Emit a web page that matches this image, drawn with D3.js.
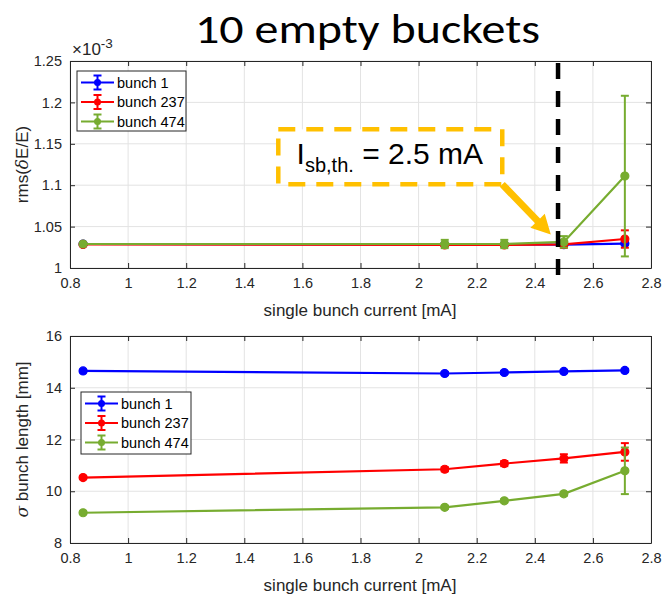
<!DOCTYPE html>
<html>
<head>
<meta charset="utf-8">
<script src="https://cdn.jsdelivr.net/npm/d3@7"></script>
<style>
  body { margin: 0; background: #fff; }
  text { font-family: "Liberation Sans", Arial, sans-serif; }
</style>
</head>
<body>
<div id="chart"></div>
<script>
// data
const current = [0.845, 2.09, 2.295, 2.5, 2.71];
const seriesNames = ['bunch 1', 'bunch 237', 'bunch 474'];
const seriesColors = ['#0000ff', '#ff0000', '#77ac30'];

const rmsB1 = [1.0290, 1.0285, 1.0285, 1.0282, 1.0295];
const rmsB1Err = [0.0008, 0.0008, 0.0008, 0.0010, 0.0015];
const rmsB237 = [1.0285, 1.0278, 1.0278, 1.0285, 1.0350];
const rmsB237Err = [0.0008, 0.0010, 0.0010, 0.0040, 0.0105];
const rmsB474 = [1.0290, 1.0290, 1.0290, 1.0315, 1.1110];
const rmsB474Err = [0.0008, 0.0050, 0.0050, 0.0070, 0.0970];

const lenB1 = [14.65, 14.55, 14.59, 14.63, 14.67];
const lenB1Err = [0.05, 0.06, 0.06, 0.06, 0.06];
const lenB237 = [10.53, 10.85, 11.07, 11.27, 11.52];
const lenB237Err = [0.05, 0.08, 0.10, 0.16, 0.34];
const lenB474 = [9.17, 9.38, 9.63, 9.90, 10.79];
const lenB474Err = [0.05, 0.06, 0.06, 0.07, 0.90];

const xTicks = [0.8, 1, 1.2, 1.4, 1.6, 1.8, 2, 2.2, 2.4, 2.6, 2.8];
const rmsTicks = [1, 1.05, 1.1, 1.15, 1.2, 1.25];
const lenTicks = [8, 10, 12, 14, 16];
const threshold = 2.48;

const W = 666, H = 598;
const svg = d3.select('#chart').append('svg')
  .attr('width', W).attr('height', H);

svg.append('text')
  .attr('x', 195).attr('y', 43)
  .attr('textLength', 345).attr('lengthAdjust', 'spacingAndGlyphs')
  .style('font-family', 'Carlito, "Open Sans", Lato, sans-serif')
  .style('font-size', '41px')
  .attr('fill', '#000')
  .text('10 empty buckets');

function drawPanel(top, bottom, yDomain, yTicks, yFmt, series, yLabel) {
  const x = d3.scaleLinear().domain([0.8, 2.8]).range([70, 651]);
  const y = d3.scaleLinear().domain(yDomain).range([bottom, top]);
  const g = svg.append('g');

  // grid
  g.append('g').selectAll('line').data(xTicks).join('line')
    .attr('x1', d => x(d)).attr('x2', d => x(d))
    .attr('y1', top).attr('y2', bottom)
    .attr('stroke', '#e3e3e3').attr('stroke-width', 1);
  g.append('g').selectAll('line').data(yTicks).join('line')
    .attr('x1', 70).attr('x2', 651)
    .attr('y1', d => y(d)).attr('y2', d => y(d))
    .attr('stroke', '#e3e3e3').attr('stroke-width', 1);

  // axes, ticks inward, box on
  const axisColor = '#262626';
  const ax = [
    g.append('g').attr('transform', `translate(0,${bottom})`)
      .call(d3.axisBottom(x).tickValues(xTicks).tickSizeInner(-5).tickSizeOuter(0).tickPadding(10).tickFormat(d3.format('~g'))),
    g.append('g').attr('transform', `translate(0,${top})`)
      .call(d3.axisTop(x).tickValues(xTicks).tickSizeInner(-5).tickSizeOuter(0).tickFormat('')),
    g.append('g').attr('transform', 'translate(70,0)')
      .call(d3.axisLeft(y).tickValues(yTicks).tickSizeInner(-5).tickSizeOuter(0).tickPadding(8).tickFormat(yFmt)),
    g.append('g').attr('transform', 'translate(651,0)')
      .call(d3.axisRight(y).tickValues(yTicks).tickSizeInner(-5).tickSizeOuter(0).tickFormat(''))
  ];
  ax.forEach(a => {
    a.select('.domain').attr('stroke', axisColor);
    a.selectAll('.tick line').attr('stroke', axisColor);
    a.selectAll('.tick text').attr('fill', axisColor)
      .style('font-size', '14.5px').style('font-family', '"Liberation Sans", Arial, sans-serif');
  });

  // series
  series.forEach((s, i) => {
    const pts = current.map((c, k) => ({ x: c, y: s.v[k], e: s.e[k] }));
    const col = seriesColors[i];
    const line = d3.line().x(d => x(d.x)).y(d => y(d.y));
    g.append('path').datum(pts)
      .attr('fill', 'none').attr('stroke', col).attr('stroke-width', 2.2)
      .attr('d', line);
    const eb = g.append('g').selectAll('g').data(pts).join('g');
    eb.append('line')
      .attr('x1', d => x(d.x)).attr('x2', d => x(d.x))
      .attr('y1', d => y(d.y - d.e)).attr('y2', d => y(d.y + d.e))
      .attr('stroke', col).attr('stroke-width', 2);
    [-1, 1].forEach(sg => {
      eb.append('line')
        .attr('x1', d => x(d.x) - 4).attr('x2', d => x(d.x) + 4)
        .attr('y1', d => y(d.y + sg * d.e)).attr('y2', d => y(d.y + sg * d.e))
        .attr('stroke', col).attr('stroke-width', 2);
    });
    g.append('g').selectAll('circle').data(pts).join('circle')
      .attr('cx', d => x(d.x)).attr('cy', d => y(d.y)).attr('r', 4)
      .attr('fill', col).attr('stroke', col).attr('stroke-width', 1.2);
  });

  // y label
  svg.append('text')
    .attr('transform', `translate(28,${(top + bottom) / 2}) rotate(-90)`)
    .attr('text-anchor', 'middle')
    .style('font-size', '17px').attr('fill', axisColor)
    .html(yLabel);

  // x label
  svg.append('text')
    .attr('x', 360).attr('y', bottom + 48)
    .attr('text-anchor', 'middle')
    .style('font-size', '17px').attr('fill', axisColor)
    .text('single bunch current [mA]');

  return { x, y, g };
}

function drawLegend(lx, ly, w, h) {
  const lg = svg.append('g').attr('transform', `translate(${lx},${ly})`);
  lg.append('rect').attr('width', w).attr('height', h)
    .attr('fill', '#fff').attr('stroke', '#262626').attr('stroke-width', 1);
  seriesNames.forEach((n, i) => {
    const cy = 11.5 + i * 19.5;
    const col = seriesColors[i];
    lg.append('line').attr('x1', 4).attr('x2', 37).attr('y1', cy).attr('y2', cy)
      .attr('stroke', col).attr('stroke-width', 2.2);
    lg.append('line').attr('x1', 20.5).attr('x2', 20.5).attr('y1', cy - 7).attr('y2', cy + 7)
      .attr('stroke', col).attr('stroke-width', 2);
    [-7, 7].forEach(dy => lg.append('line')
      .attr('x1', 16.5).attr('x2', 24.5).attr('y1', cy + dy).attr('y2', cy + dy)
      .attr('stroke', col).attr('stroke-width', 2));
    lg.append('circle').attr('cx', 20.5).attr('cy', cy).attr('r', 3.5).attr('fill', col);
    lg.append('text').attr('x', 40).attr('y', cy + 5)
      .style('font-size', '14.5px').attr('fill', '#000').text(n);
  });
}

// top panel
const topP = drawPanel(61, 268, [1, 1.25], rmsTicks, d3.format('~g'), [
  { v: rmsB1, e: rmsB1Err },
  { v: rmsB237, e: rmsB237Err },
  { v: rmsB474, e: rmsB474Err }
], 'rms(<tspan font-style="italic" font-family="DejaVu Serif">δ</tspan>E/E)');

// exponent label
svg.append('text').attr('x', 72).attr('y', 55)
  .style('font-size', '17px').attr('fill', '#262626')
  .html('×10<tspan dy="-7" font-size="13.5px">-3</tspan>');

drawLegend(77, 71, 109, 60);

// threshold line
topP.g.append('line')
  .attr('x1', topP.x(threshold)).attr('x2', topP.x(threshold))
  .attr('y1', topP.y(1.2476)).attr('y2', topP.y(0.9915))
  .attr('stroke', '#000').attr('stroke-width', 4.5)
  .attr('stroke-dasharray', '16,12');

// annotation box
const box = { x0: 1.517, x1: 2.288, y0: 1.1675, y1: 1.101 };
topP.g.append('rect')
  .attr('x', topP.x(box.x0)).attr('y', topP.y(box.y0))
  .attr('width', topP.x(box.x1) - topP.x(box.x0))
  .attr('height', topP.y(box.y1) - topP.y(box.y0))
  .attr('fill', '#fff').attr('stroke', '#ffc000').attr('stroke-width', 4.5)
  .attr('stroke-dasharray', '17,11');

topP.g.append('text')
  .attr('x', topP.x(1.58)).attr('y', topP.y(1.1255))
  .style('font-size', '30px').attr('fill', '#000')
  .html('I<tspan dy="8" font-size="20px">sb,th.</tspan><tspan dy="-8"> = 2.5 mA</tspan>');

// arrow
const ax0 = topP.x(2.288), ay0 = topP.y(1.101);
const ax1 = topP.x(2.455), ay1 = topP.y(1.0405);
const ang = Math.atan2(ay1 - ay0, ax1 - ax0);
const headLen = 19, headHalf = 10, shaft = 3.5;
const bx = ax1 - headLen * Math.cos(ang), by = ay1 - headLen * Math.sin(ang);
const px = -Math.sin(ang), py = Math.cos(ang);
topP.g.append('path')
  .attr('d', d3.line()([
    [ax0 + px * shaft, ay0 + py * shaft],
    [bx + px * shaft, by + py * shaft],
    [bx + px * headHalf, by + py * headHalf],
    [ax1, ay1],
    [bx - px * headHalf, by - py * headHalf],
    [bx - px * shaft, by - py * shaft],
    [ax0 - px * shaft, ay0 - py * shaft]
  ]) + 'Z')
  .attr('fill', '#ffc000');

// bottom panel
drawPanel(336, 543, [8, 16], lenTicks, d3.format('~g'), [
  { v: lenB1, e: lenB1Err },
  { v: lenB237, e: lenB237Err },
  { v: lenB474, e: lenB474Err }
], '<tspan font-style="italic" font-family="DejaVu Serif">σ</tspan> bunch length [mm]');

drawLegend(81, 392, 110, 62);
</script>
</body>
</html>
